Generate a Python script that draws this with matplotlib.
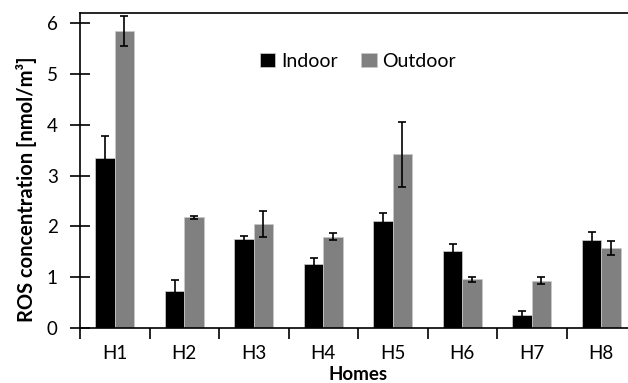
import numpy as np
import matplotlib.pyplot as plt

homes = ["H1", "H2", "H3", "H4", "H5", "H6", "H7", "H8"]
indoor = [3.35, 0.72, 1.76, 1.25, 2.11, 1.52, 0.26, 1.74]
indoor_err = [0.43, 0.23, 0.05, 0.13, 0.16, 0.14, 0.07, 0.15]
outdoor = [5.85, 2.18, 2.05, 1.80, 3.42, 0.96, 0.93, 1.57]
outdoor_err = [0.29, 0.03, 0.25, 0.07, 0.64, 0.05, 0.07, 0.14]

plt.rcParams['font.family'] = ['Lato', 'DejaVu Sans']

fig = plt.figure(figsize=(6.28, 3.83), dpi=100)
ax = fig.add_axes([80 / 628, 55 / 383, 556 / 628, 315 / 383])

x = np.arange(len(homes)) + 0.5
w = 0.28
err_kw = dict(ecolor="black", elinewidth=1.2, capsize=3, capthick=1.2)
ax.bar(x - w / 2, indoor, w, yerr=indoor_err, color="black", label="Indoor",
       edgecolor="#d0d0d0", linewidth=0.5, error_kw=err_kw)
ax.bar(x + w / 2, outdoor, w, yerr=outdoor_err, color="#808080", label="Outdoor",
       edgecolor="#c8c8c8", linewidth=0.5, error_kw=err_kw)

ax.set_xlim(0, 8)
ax.set_ylim(0, 6.2)
ax.set_yticks(range(7))
ax.tick_params(axis="y", direction="inout", length=14, width=1.2, labelsize=13.5, pad=9)

ax.set_xticks(range(9))
ax.set_xticklabels([])
ax.set_xticks(x, minor=True)
ax.set_xticklabels(homes, minor=True)
ax.tick_params(axis="x", which="major", direction="out", length=8, width=1.2)
ax.tick_params(axis="x", which="minor", length=0, labelsize=13.5, pad=12)

for s in ["top", "left", "bottom"]:
    ax.spines[s].set_linewidth(1.2)
ax.spines["right"].set_visible(False)

ax.set_xlabel("Homes", fontsize=13.5, fontweight="bold", labelpad=3)
ax.set_ylabel("ROS concentration [nmol/m³]", fontsize=14.5, fontweight="bold")
ax.yaxis.set_label_coords(-0.078, 0.44)

ax.legend(loc="upper center", bbox_to_anchor=(0.5, 0.93), ncol=2, frameon=False,
          fontsize=14, handlelength=0.8, handleheight=0.8, handletextpad=0.3,
          columnspacing=1.2)

fig.savefig("out.png", dpi=100)
